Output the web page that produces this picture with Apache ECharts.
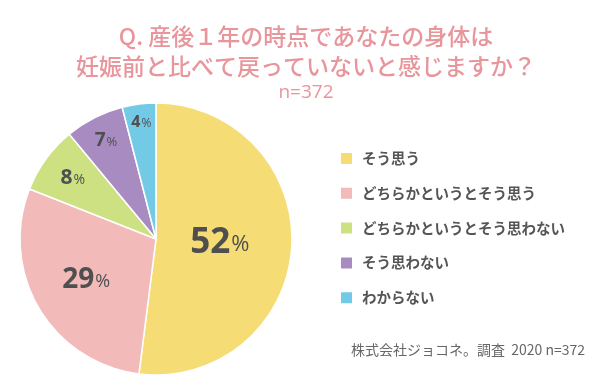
<!DOCTYPE html>
<html><head><meta charset="utf-8">
<script src="https://cdn.jsdelivr.net/npm/echarts@6/dist/echarts.min.js"></script>
<style>html,body{margin:0;padding:0;background:#fff}#c{width:602px;height:390px}</style>
</head><body><div id="c"></div>
<script>
const categories = ['そう思う', 'どちらかというとそう思う', 'どちらかというとそう思わない', 'そう思わない', 'わからない'];
const values = [52, 29, 8, 7, 4];
const colors = ['#F6DC74', '#F3BABA', '#CDE082', '#A88BC1', '#73CAE7'];
const titleLines = ['Q. 産後１年の時点であなたの身体は', '妊娠前と比べて戻っていないと感じますか？'];
const sampleText = 'n=372';
const sourceText = '株式会社ジョコネ。調査  2020 n=372';

const R = 136;
const labelRadius = [61, 78, 100, 107, 114];
const labelSizes = [[35, 22], [28, 18], [21, 14], [19, 13], [16, 12]];
const jp = '"Noto Sans CJK JP", "Open Sans", sans-serif';
const num = '"Open Sans", "Noto Sans", sans-serif';

const rich = {};
labelSizes.forEach((s, i) => {
  rich['n' + i] = { fontSize: s[0], fontWeight: 'bold', color: '#4F4F4F', fontFamily: num };
  rich['p' + i] = { fontSize: s[1], fontWeight: 'normal', color: '#4F4F4F', fontFamily: num, padding: [s[0] * 0.12, 0, 0, 1] };
});

const mainSeries = {
  type: 'pie', name: 'main', center: [156, 239], radius: [0, R],
  startAngle: 90, clockwise: true, silent: true,
  itemStyle: { borderColor: '#fff', borderWidth: 1.5 },
  label: { show: false }, labelLine: { show: false },
  data: categories.map((c, i) => ({ name: c, value: values[i], itemStyle: { color: colors[i] } }))
};

const labelSeries = categories.map((c, k) => ({
  type: 'pie', name: 'lab' + k, center: [156, 239],
  radius: 2 * labelRadius[k] <= R ? [0, 2 * labelRadius[k]] : [2 * labelRadius[k] - R, R],
  startAngle: 90, clockwise: true, silent: true,
  itemStyle: { color: 'rgba(0,0,0,0)', borderWidth: 0 },
  labelLine: { show: false },
  emphasis: { disabled: true },
  data: categories.map((cc, i) => ({
    name: cc, value: values[i],
    label: {
      show: i === k, position: 'inside', rich: rich,
      formatter: p => '{n' + i + '|' + p.value + '}{p' + i + '|%}'
    }
  }))
}));

const chart = echarts.init(document.getElementById('c'), null, { renderer: 'canvas' });
chart.setOption({
  backgroundColor: '#fff',
  animation: false,
  color: colors,
  title: [{
    text: titleLines.join('\n'),
    subtext: sampleText,
    left: 301, top: 17, textAlign: 'center',
    itemGap: 2,
    textStyle: { fontSize: 23, fontWeight: 500, color: '#E8959B', fontFamily: jp, lineHeight: 29.5 },
    subtextStyle: { fontSize: 19, color: '#E8959B', fontFamily: num, lineHeight: 20 }
  }, {
    text: sourceText,
    right: 17, top: 342, padding: 0,
    textStyle: { fontSize: 14, fontWeight: 'normal', color: '#666', fontFamily: jp, lineHeight: 16 }
  }],
  legend: {
    data: categories,
    orient: 'vertical', left: 339, top: 151, padding: 0,
    icon: 'rect', itemWidth: 13, itemHeight: 13, itemGap: 19.8,
    selectedMode: false,
    textStyle: { fontSize: 14.5, lineHeight: 13, fontWeight: 'bold', color: '#555', fontFamily: jp, padding: [0, 0, 0, 4] }
  },
  series: [mainSeries].concat(labelSeries)
});
</script></body></html>
